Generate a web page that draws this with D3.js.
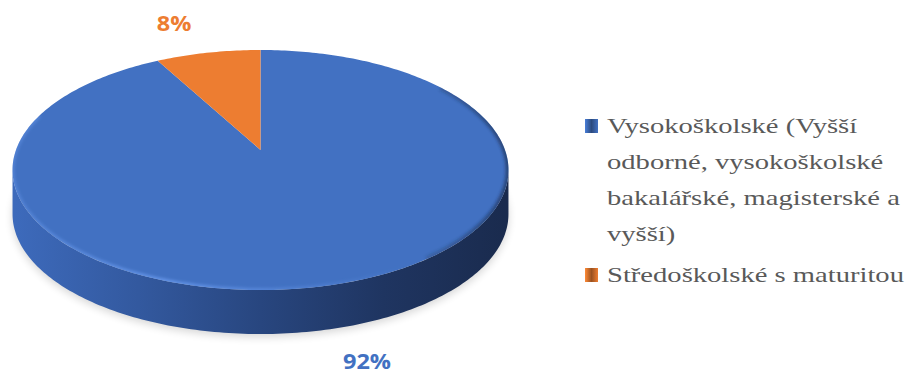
<!DOCTYPE html>
<html>
<head>
<meta charset="utf-8">
<script src="https://cdn.jsdelivr.net/npm/d3@7"></script>
<style>
  body { margin: 0; background: #ffffff; }
  svg { display: block; }
</style>
</head>
<body>
<svg id="chart" width="910" height="372"></svg>
<script>
// data
var categories = [
    "Vysokoškolské (Vyšší odborné, vysokoškolské bakalářské, magisterské a vyšší)",
    "Středoškolské s maturitou"
];
var values = [92, 8];
var valueLabels = ["92%", "8%"];
var legendLines = [
    ["Vysokoškolské (Vyšší", "odborné, vysokoškolské", "bakalářské, magisterské a", "vyšší)"],
    ["Středoškolské s maturitou"]
];
var colors = ["#4271c2", "#ed7d31"];

var svg = d3.select("#chart");
var defs = svg.append("defs");

// perspective disc: center, half axes, tilt factor, thickness
var CX = 260.5, CY = 150, A = 244.5, B = 116.7, K = 1 / 6, DEPTH = 44;

function proj(a, r, dy) {
    var u = r * Math.sin(a), v = -r * Math.cos(a);
    var w = 1 - K * v;
    return [CX + A * u / w, CY + B * v / w + (dy || 0)];
}

function arcPoints(a0, a1, r, dy) {
    var n = Math.max(8, Math.ceil(Math.abs(a1 - a0) * 60));
    return d3.range(n + 1).map(function (i) {
        return proj(a0 + (a1 - a0) * i / n, r, dy);
    });
}

var line = d3.line();

var pie = d3.pie().sort(null).value(function (d) { return d; });
var arcs = pie(values);

// filters and gradients
defs.append("filter").attr("id", "blur4").attr("x", "-20%").attr("y", "-20%")
    .attr("width", "140%").attr("height", "140%")
    .append("feGaussianBlur").attr("stdDeviation", 4);
defs.append("filter").attr("id", "blur2").attr("x", "-20%").attr("y", "-20%")
    .attr("width", "140%").attr("height", "140%")
    .append("feGaussianBlur").attr("stdDeviation", 1.5);

var sideGrad = defs.append("linearGradient").attr("id", "sideGrad")
    .attr("gradientUnits", "userSpaceOnUse")
    .attr("x1", CX - A).attr("x2", CX + A).attr("y1", 0).attr("y2", 0);
[[0, "#3d6abb"], [0.25, "#33599f"], [0.5, "#28467f"], [0.75, "#1f3561"], [1, "#1a2b4e"]]
    .forEach(function (s) {
        sideGrad.append("stop").attr("offset", s[0]).attr("stop-color", s[1]);
    });

var darkRim = defs.append("linearGradient").attr("id", "darkRim")
    .attr("gradientUnits", "userSpaceOnUse")
    .attr("x1", CX - A).attr("x2", CX + A).attr("y1", 0).attr("y2", 0);
[[0, 0], [0.7, 0], [0.9, 0.35], [1, 0.6]].forEach(function (s) {
    darkRim.append("stop").attr("offset", s[0]).attr("stop-color", "#1a2b4e").attr("stop-opacity", s[1]);
});

var lightRim = defs.append("linearGradient").attr("id", "lightRim")
    .attr("gradientUnits", "userSpaceOnUse")
    .attr("x1", CX - A).attr("x2", CX + A).attr("y1", 0).attr("y2", 0);
[[0, 0.4], [0.3, 0.8], [0.6, 0.3], [0.8, 0]].forEach(function (s) {
    lightRim.append("stop").attr("offset", s[0]).attr("stop-color", "#6b9cf0").attr("stop-opacity", s[1]);
});

var fullTop = arcPoints(0, 2 * Math.PI, 1, 0);
defs.append("clipPath").attr("id", "topClip")
    .append("path").attr("d", line(fullTop) + "Z");

// side silhouette angles
var aR = Math.acos(-K), aL = 2 * Math.PI - aR;
var sideTop = arcPoints(aR, aL, 1, 0);
var sideBot = arcPoints(aL, aR, 1, DEPTH);

// soft shadow under the pie
svg.append("path")
    .attr("d", line(arcPoints(aR - 0.3, aL + 0.3, 1, DEPTH + 3)) + "Z")
    .attr("fill", "#000")
    .attr("opacity", 0.16)
    .attr("filter", "url(#blur4)");

// visible side wall (only the big slice faces front)
svg.append("path")
    .attr("d", line(sideTop.concat(sideBot)) + "Z")
    .attr("fill", "url(#sideGrad)");

// top face slices
svg.append("g").selectAll("path")
    .data(arcs)
    .join("path")
    .attr("d", function (d) {
        return line([[CX, CY]].concat(arcPoints(d.startAngle, d.endAngle, 1, 0))) + "Z";
    })
    .attr("fill", function (d, i) { return colors[i]; });

// bevel on the rim
var bevel = svg.append("g").attr("clip-path", "url(#topClip)");
bevel.append("path")
    .attr("d", line(arcPoints(Math.PI * 0.3, Math.PI * 0.8, 1, 0)))
    .attr("fill", "none")
    .attr("stroke", "url(#darkRim)")
    .attr("stroke-width", 6)
    .attr("filter", "url(#blur2)");
bevel.append("path")
    .attr("d", line(arcPoints(Math.PI * 0.6, Math.PI * 1.6, 1, 0)))
    .attr("fill", "none")
    .attr("stroke", "url(#lightRim)")
    .attr("stroke-width", 4)
    .attr("filter", "url(#blur2)");

// value labels outside the slices
svg.append("g").selectAll("text")
    .data(arcs)
    .join("text")
    .each(function (d, i) {
        var mid = (d.startAngle + d.endAngle) / 2;
        var u = Math.sin(mid), v = -Math.cos(mid);
        var p = proj(mid, 1, v > 0 ? DEPTH : 0);
        var x = p[0] + (u > 0 ? 34 : -34);
        var y = p[1] + (v > 0 ? 40 : -22);
        d3.select(this)
            .attr("transform", "translate(" + x + "," + y + ") scale(1.12,1)")
            .attr("text-anchor", "middle")
            .attr("font-family", "'Open Sans', sans-serif")
            .attr("font-weight", 700)
            .attr("font-size", 21)
            .attr("fill", colors[i])
            .text(valueLabels[i]);
    });

// legend
var legend = svg.append("g").attr("transform", "translate(585,0)");
var LEG_SX = 1.3, LINE_H = 36;
var legendY = [133, 282];
legend.selectAll("g.item")
    .data(categories)
    .join("g")
    .attr("class", "item")
    .each(function (d, i) {
        var g = d3.select(this);
        var y0 = legendY[i];
        var mg = defs.append("linearGradient").attr("id", "mk" + i)
            .attr("x1", 0).attr("x2", 1).attr("y1", 0).attr("y2", 0);
        mg.append("stop").attr("offset", 0).attr("stop-color", d3.color(colors[i]).brighter(0.3));
        mg.append("stop").attr("offset", 0.5).attr("stop-color", d3.color(colors[i]).darker(1.2));
        mg.append("stop").attr("offset", 1).attr("stop-color", colors[i]);
        g.append("rect")
            .attr("x", 0).attr("y", y0 - 14)
            .attr("width", 13).attr("height", 14)
            .attr("fill", "url(#mk" + i + ")");
        var t = g.append("text")
            .attr("transform", "translate(22," + y0 + ") scale(" + LEG_SX + ",1)")
            .attr("font-family", "'Liberation Serif', 'Times New Roman', serif")
            .attr("font-size", 22)
            .attr("fill", "#595959");
        legendLines[i].forEach(function (ln, j) {
            t.append("tspan").attr("x", 0).attr("y", j * LINE_H).text(ln);
        });
    });
</script>
</body>
</html>
